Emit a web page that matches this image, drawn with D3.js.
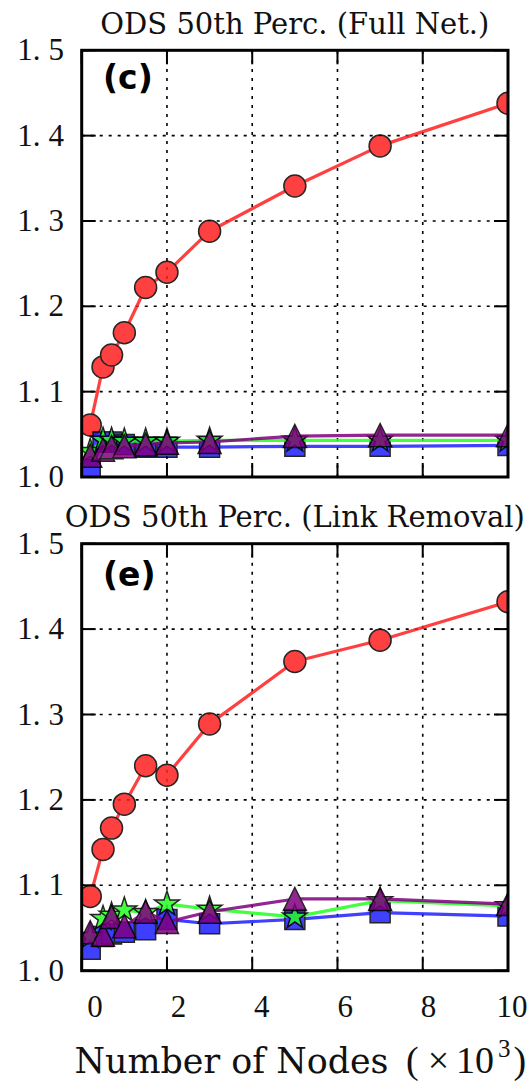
<!DOCTYPE html>
<html><head><meta charset="utf-8">
<script src="https://cdn.jsdelivr.net/npm/d3@7"></script>
<style>body{margin:0;background:#fff}
.num{font-family:"Liberation Serif","Times New Roman",Times,serif}
.ser{font-family:"DejaVu Serif",serif}
</style>
</head><body>
<svg id="chart" width="531" height="1083"></svg>
<script>
// ---------------- data ----------------
const nodes = [0.2, 0.5, 0.7, 1, 1.5, 2, 3, 5, 7, 10];   // x 10^3
const xTickValues = [0, 2, 4, 6, 8, 10];
const yTickValues = [1.0, 1.1, 1.2, 1.3, 1.4, 1.5];
const titles = ["ODS 50th Perc. (Full Net.)", "ODS 50th Perc. (Link Removal)"];
const letters = ["(c)", "(e)"];

const fullNetRed    = [1.061, 1.129, 1.143, 1.169, 1.222, 1.240, 1.288, 1.341, 1.388, 1.438];
const fullNetBlue   = [1.009, 1.041, 1.041, 1.038, 1.035, 1.035, 1.035, 1.036, 1.036, 1.037];
const fullNetGreen  = [1.030, 1.043, 1.043, 1.042, 1.042, 1.042, 1.043, 1.043, 1.043, 1.043];
const fullNetPurple = [1.025, 1.032, 1.035, 1.036, 1.038, 1.040, 1.041, 1.048, 1.049, 1.049];

const linkRemRed    = [1.087, 1.142, 1.167, 1.195, 1.240, 1.229, 1.289, 1.362, 1.387, 1.432];
const linkRemBlue   = [1.025, 1.040, 1.043, 1.045, 1.048, 1.060, 1.055, 1.060, 1.068, 1.064];
const linkRemGreen  = [1.040, 1.061, 1.065, 1.071, 1.068, 1.078, 1.072, 1.063, 1.082, 1.076];
const linkRemPurple = [1.045, 1.042, 1.063, 1.052, 1.069, 1.057, 1.069, 1.084, 1.084, 1.078];

const panelSeries = [
  [fullNetRed, fullNetBlue, fullNetGreen, fullNetPurple],
  [linkRemRed, linkRemBlue, linkRemGreen, linkRemPurple]
];

// ---------------- styles / layout ----------------
const seriesStyle = [
  {color: "#ff1f1f", marker: "circle"},
  {color: "#1f1fff", marker: "square"},
  {color: "#22ff22", marker: "star"},
  {color: "#800080", marker: "triangle"}
];
const xLeft = 81.7, xRight = 508;
const panelBox = [{top: 50.3, bottom: 477}, {top: 543.7, bottom: 970.7}];

const svg = d3.select("#chart");
const x = d3.scaleLinear().domain([0, 10]).range([xLeft, xRight]);
const xLabelScale = d3.scaleLinear().domain([0, 10]).range([95, 512]);

function markerPath(type) {
  if (type === "square") { const h = 10; return `M${-h},${-h}H${h}V${h}H${-h}Z`; }
  if (type === "triangle") { const h = 11.5; return `M0,${-h}L${h},${h}L${-h},${h}Z`; }
  if (type === "star") {
    const R = 13, r = R * 0.381966; let p = "";
    for (let i = 0; i < 10; i++) {
      const a = -Math.PI / 2 + i * Math.PI / 5, rr = i % 2 ? r : R;
      p += (i ? "L" : "M") + (rr * Math.cos(a)).toFixed(2) + "," + (rr * Math.sin(a)).toFixed(2);
    }
    return p + "Z";
  }
  return null;
}

panelBox.forEach((box, pi) => {
  const y = d3.scaleLinear().domain([1.0, 1.5]).range([box.bottom, box.top]);
  const g = svg.append("g");
  const clipId = "clip" + pi;
  svg.append("clipPath").attr("id", clipId).append("rect")
    .attr("x", xLeft).attr("y", box.top).attr("width", xRight - xLeft).attr("height", box.bottom - box.top);

  // grid
  const grid = g.append("g").attr("stroke", "#000").attr("stroke-width", 1.6).attr("stroke-dasharray", "3,6");
  grid.selectAll("line.vx").data(xTickValues.slice(1, -1)).join("line")
    .attr("x1", d => x(d)).attr("x2", d => x(d)).attr("y1", box.bottom).attr("y2", box.top);
  grid.selectAll("line.hy").data(yTickValues.slice(1, -1)).join("line")
    .attr("x1", xLeft).attr("x2", xRight).attr("y1", d => y(d)).attr("y2", d => y(d));

  // series
  const plot = g.append("g").attr("clip-path", `url(#${clipId})`);
  panelSeries[pi].forEach((vals, si) => {
    const st = seriesStyle[si];
    const pts = nodes.map((n, i) => [x(n), y(vals[i])]);
    const sg = plot.append("g").attr("opacity", 0.85);
    sg.append("path").attr("d", d3.line()(pts)).attr("fill", "none")
      .attr("stroke", st.color).attr("stroke-width", 3.2).attr("stroke-linejoin", "round");
    if (st.marker === "circle") {
      sg.selectAll("circle").data(pts).join("circle")
        .attr("cx", d => d[0]).attr("cy", d => d[1]).attr("r", 11)
        .attr("fill", st.color).attr("stroke", "#000").attr("stroke-width", 1.5);
    } else {
      sg.selectAll("path.m").data(pts).join("path").attr("class", "m")
        .attr("d", markerPath(st.marker)).attr("transform", d => `translate(${d[0]},${d[1]})`)
        .attr("fill", st.color).attr("stroke", "#000").attr("stroke-width", 1.5).attr("stroke-linejoin", "miter");
    }
  });

  // ticks (inward, all four sides)
  const tk = 14;
  const ax = g.append("g").attr("stroke", "#000").attr("stroke-width", 2);
  xTickValues.forEach(v => {
    ax.append("line").attr("x1", x(v)).attr("x2", x(v)).attr("y1", box.bottom).attr("y2", box.bottom - tk);
    ax.append("line").attr("x1", x(v)).attr("x2", x(v)).attr("y1", box.top).attr("y2", box.top + tk);
  });
  yTickValues.forEach(v => {
    ax.append("line").attr("x1", xLeft).attr("x2", xLeft + tk).attr("y1", y(v)).attr("y2", y(v));
    ax.append("line").attr("x1", xRight).attr("x2", xRight - tk).attr("y1", y(v)).attr("y2", y(v));
  });

  // frame
  g.append("rect").attr("x", xLeft).attr("y", box.top).attr("width", xRight - xLeft)
    .attr("height", box.bottom - box.top).attr("fill", "none").attr("stroke", "#000").attr("stroke-width", 3);

  // y tick labels
  const yl = g.append("g").attr("class", "num").attr("font-size", 31)
    .attr("text-anchor", "end").attr("fill", "#111");
  yTickValues.forEach(v => {
    const s = v.toFixed(1).split(".");
    const t = yl.append("text").attr("x", 64).attr("y", y(v) + 10);
    t.append("tspan").text(s[0] + ".");
    t.append("tspan").attr("dx", 8).text(s[1]);
  });

  // title
  g.append("text").attr("class", "ser").attr("x", (xLeft + xRight) / 2).attr("y", box.top - 16.5)
    .attr("text-anchor", "middle").attr("font-size", 29)
    .attr("fill", "#111").text(titles[pi]);

  // panel letter
  g.append("text").attr("x", 103).attr("y", box.top + 38.5 + pi * 4)
    .attr("font-family", "DejaVu Sans, sans-serif").attr("font-weight", "bold").attr("font-size", 33)
    .attr("fill", "#000").text(letters[pi]);

  if (pi === panelBox.length - 1) {
    const xl = g.append("g").attr("class", "num").attr("font-size", 31)
      .attr("text-anchor", "middle").attr("fill", "#111");
    xTickValues.forEach(v => {
      xl.append("text").attr("x", xLabelScale(v)).attr("y", 1016.5).text(v);
    });
  }
});

// x axis label
svg.append("text").attr("class", "ser").attr("x", 74.5).attr("y", 1073)
  .attr("font-size", 36).attr("textLength", 314).attr("lengthAdjust", "spacingAndGlyphs")
  .attr("fill", "#111").text("Number of Nodes");
const mt = svg.append("text").attr("class", "num").attr("x", 406).attr("y", 1073)
  .attr("font-size", 38).attr("fill", "#111");
mt.append("tspan").text("(");
mt.append("tspan").attr("dx", 9).text("\u00d7");
mt.append("tspan").attr("dx", 7).text("10");
mt.append("tspan").attr("dx", 4).attr("dy", -16).attr("font-size", 25).text("3");
mt.append("tspan").attr("dx", 3).attr("dy", 16).text(")");
</script>
</body></html>
